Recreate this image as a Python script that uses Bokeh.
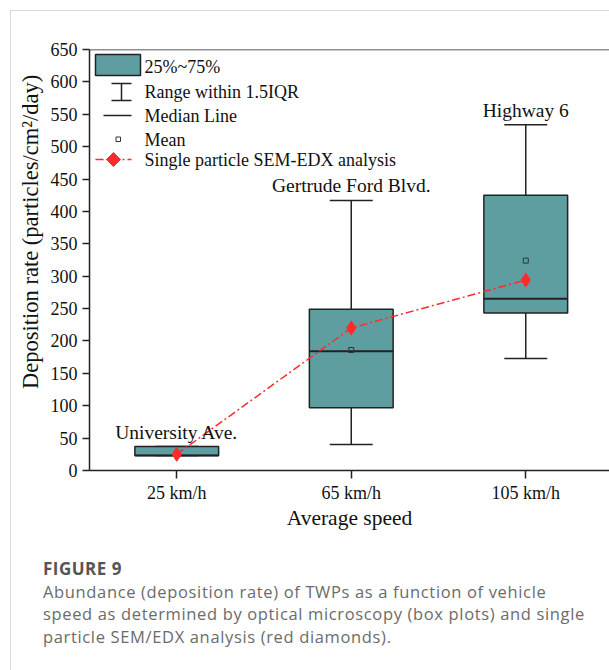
from bokeh.plotting import figure
from bokeh.layouts import column
from bokeh.models import (FixedTicker, Span, Label, Range1d, PolyAnnotation,
                          BoxAnnotation, Arrow, Div)
from bokeh.core.properties import value
from bokeh.embed import file_html
from bokeh.resources import INLINE

# ---------------- data ----------------
speeds = ["25 km/h", "65 km/h", "105 km/h"]
sites = ["University Ave.", "Gertrude Ford Blvd.", "Highway 6"]
q1 = [23, 97, 243]
q3 = [37, 249, 425]
median = [23, 184, 265]
mean = [26, 186, 324]
whisker_low = [23, 40, 173]
whisker_high = [37, 417, 534]
sem_edx = [25, 220, 294]
y_ticks = [0, 50, 100, 150, 200, 250, 300, 350, 400, 450, 500, 550, 600, 650]

legend_labels = ["25%~75%", "Range within 1.5IQR", "Median Line", "Mean",
                 "Single particle SEM-EDX analysis"]
x_title = "Average speed"
y_title = "Deposition rate (particles/cm\u00b2/day)"
caption_title = "FIGURE 9"
caption_lines = [
    "Abundance (deposition rate) of TWPs as a function of vehicle",
    "speed as determined by optical microscopy (box plots) and single",
    "particle SEM/EDX analysis (red diamonds).",
]

# ---------------- layout constants (page pixels) ----------------
OFF = 11                      # card border (10px) + 1px line
PAGE_W = 609
FIG_H = 529
PFL, PFT, PFB, PFR = 89, 49, 470, 609   # frame edges on the page
X0, X1 = 0.5, 0.5 + (PFR - PFL) / 174.5
Y0, Y1 = 0, 650

BOX_COLOR = "#5F9EA0"
EDGE = "#222222"
RED = "#ff2b2b"
SERIF = "Liberation Serif"
TXT = "#111111"


def dx(px):
    return X0 + (px - PFL) / (PFR - PFL) * (X1 - X0)


def dy(py):
    return Y0 + (PFB - py) / (PFB - PFT) * (Y1 - Y0)


W = PAGE_W - OFF
p = figure(width=W, height=FIG_H, output_backend="svg", toolbar_location=None,
           x_range=Range1d(X0, X1), y_range=Range1d(Y0, Y1),
           min_border_left=PFL - OFF, min_border_top=PFT - OFF, min_border_right=0,
           min_border_bottom=FIG_H - (PFB - OFF))
p.outline_line_color = None
p.grid.visible = False
p.background_fill_color = "white"
p.border_fill_color = "white"

xs = [1, 2, 3]
box_w = 0.48
cap_w = 0.246

# whiskers
p.segment(x0=xs, y0=q3, x1=xs, y1=whisker_high, line_color=EDGE, line_width=1.5)
p.segment(x0=xs, y0=q1, x1=xs, y1=whisker_low, line_color=EDGE, line_width=1.5)
p.segment(x0=[x - cap_w / 2 for x in xs], y0=whisker_high,
          x1=[x + cap_w / 2 for x in xs], y1=whisker_high, line_color=EDGE, line_width=1.5)
p.segment(x0=[x - cap_w / 2 for x in xs], y0=whisker_low,
          x1=[x + cap_w / 2 for x in xs], y1=whisker_low, line_color=EDGE, line_width=1.5)
# boxes
p.vbar(x=xs, width=box_w, top=q3, bottom=q1, fill_color=BOX_COLOR,
       line_color=EDGE, line_width=1.5)
# median
p.segment(x0=[x - box_w / 2 for x in xs], y0=median,
          x1=[x + box_w / 2 for x in xs], y1=median, line_color=EDGE, line_width=2)
# mean
p.scatter(x=xs, y=mean, marker="square", size=5, fill_color=None,
          line_color="#333333", line_width=1)
# SEM-EDX
p.line(x=xs, y=sem_edx, line_color=RED, line_width=1.5, line_dash="8 3 2 3")
p.scatter(x=xs, y=sem_edx, marker="diamond", size=14, fill_color=RED,
          line_color=RED)
# site labels
p.text(x=xs, y=whisker_high, text=sites, y_offset=-4, text_align="center",
       text_baseline="bottom", text_font=value(SERIF), text_font_size="19.5px",
       text_color=TXT)

# top frame line
p.add_layout(Span(location=650, dimension="width", line_color=EDGE, line_width=1.5))

# axes
for ax in (p.xaxis[0], p.yaxis[0]):
    ax.axis_line_color = EDGE
    ax.axis_line_width = 1.5
    ax.major_tick_line_color = EDGE
    ax.major_tick_line_width = 1.5
    ax.major_tick_in = 0
    ax.minor_tick_line_color = None
    ax.major_label_text_font = SERIF
    ax.major_label_text_font_size = "18px"
    ax.major_label_text_color = TXT
    ax.axis_label_text_font = SERIF
    ax.axis_label_text_font_style = "normal"
    ax.axis_label_text_color = TXT

p.xaxis.ticker = FixedTicker(ticks=xs)
p.xaxis.major_label_overrides = {x: s for x, s in zip(xs, speeds)}
p.xaxis.major_tick_out = 8
p.xaxis.major_label_standoff = 4
p.xaxis.axis_label = x_title
p.xaxis.axis_label_text_font_size = "21.5px"
p.xaxis.axis_label_standoff = 0

p.yaxis.ticker = FixedTicker(ticks=y_ticks)
p.yaxis.major_tick_out = 7
p.yaxis.major_label_standoff = 5
# leading no-break spaces shift the (frame-centred) title upward as in the original
p.yaxis.axis_label = "\u00a0" * 10 + y_title
p.yaxis.axis_label_text_font_size = "22.5px"
p.yaxis.axis_label_standoff = 5

# ---------------- legend (drawn by hand, page pixel layout) ----------------
row_y = [66, 91, 115, 139, 159]
p.add_layout(BoxAnnotation(left=dx(95), right=dx(140), top=dy(54), bottom=dy(75),
                           fill_color=BOX_COLOR, fill_alpha=1, line_color=EDGE,
                           line_width=1.5, line_alpha=1))
for (a, b, c, d) in [(121, 83, 121, 100), (111, 83, 131, 83), (111, 100, 131, 100),
                     (103, 115, 131, 115)]:
    p.add_layout(Arrow(end=None, x_start=dx(a), y_start=dy(b), x_end=dx(c), y_end=dy(d),
                       line_color=EDGE, line_width=1.5))
p.add_layout(BoxAnnotation(left=dx(115.5), right=dx(120), top=dy(136.5), bottom=dy(141),
                           fill_color=None, line_color="#333333", line_width=1, line_alpha=1))
p.add_layout(Arrow(end=None, x_start=dx(95), y_start=dy(159), x_end=dx(131), y_end=dy(159),
                   line_color=RED, line_width=1.5, line_dash="8 3 2 3"))
p.add_layout(PolyAnnotation(xs=[dx(106), dx(113), dx(120), dx(113)],
                            ys=[dy(159), dy(152), dy(159), dy(166)],
                            fill_color=RED, fill_alpha=1, line_color=RED, line_alpha=1))
for t, yy in zip(legend_labels, row_y):
    p.add_layout(Label(x=dx(144), y=dy(yy), text=t, text_baseline="middle",
                       text_font=SERIF, text_font_size="18px", text_color=TXT))

# ---------------- caption ----------------
cap_html = (
    '<div style="font-family:\'Open Sans\',sans-serif;font-size:16.5px;'
    'letter-spacing:0.65px;line-height:22.5px;color:#6b6b6b;'
    'padding:13px 0 0 27px;white-space:nowrap;">'
    '<div style="font-weight:bold;color:#555555;font-size:17px;letter-spacing:0.5px;">'
    + caption_title + '</div>'
    + "<br>".join(caption_lines) + '</div>'
)
cap = Div(text=cap_html, width=W, height=670 - OFF - FIG_H - 2)

layout = column(p, cap, spacing=0,
                styles={"margin-left": "10px", "margin-top": "10px",
                        "border-left": "1px solid #d9d9d9",
                        "border-top": "1px solid #d9d9d9"})

open("out.html", "w").write(file_html(layout, INLINE))
